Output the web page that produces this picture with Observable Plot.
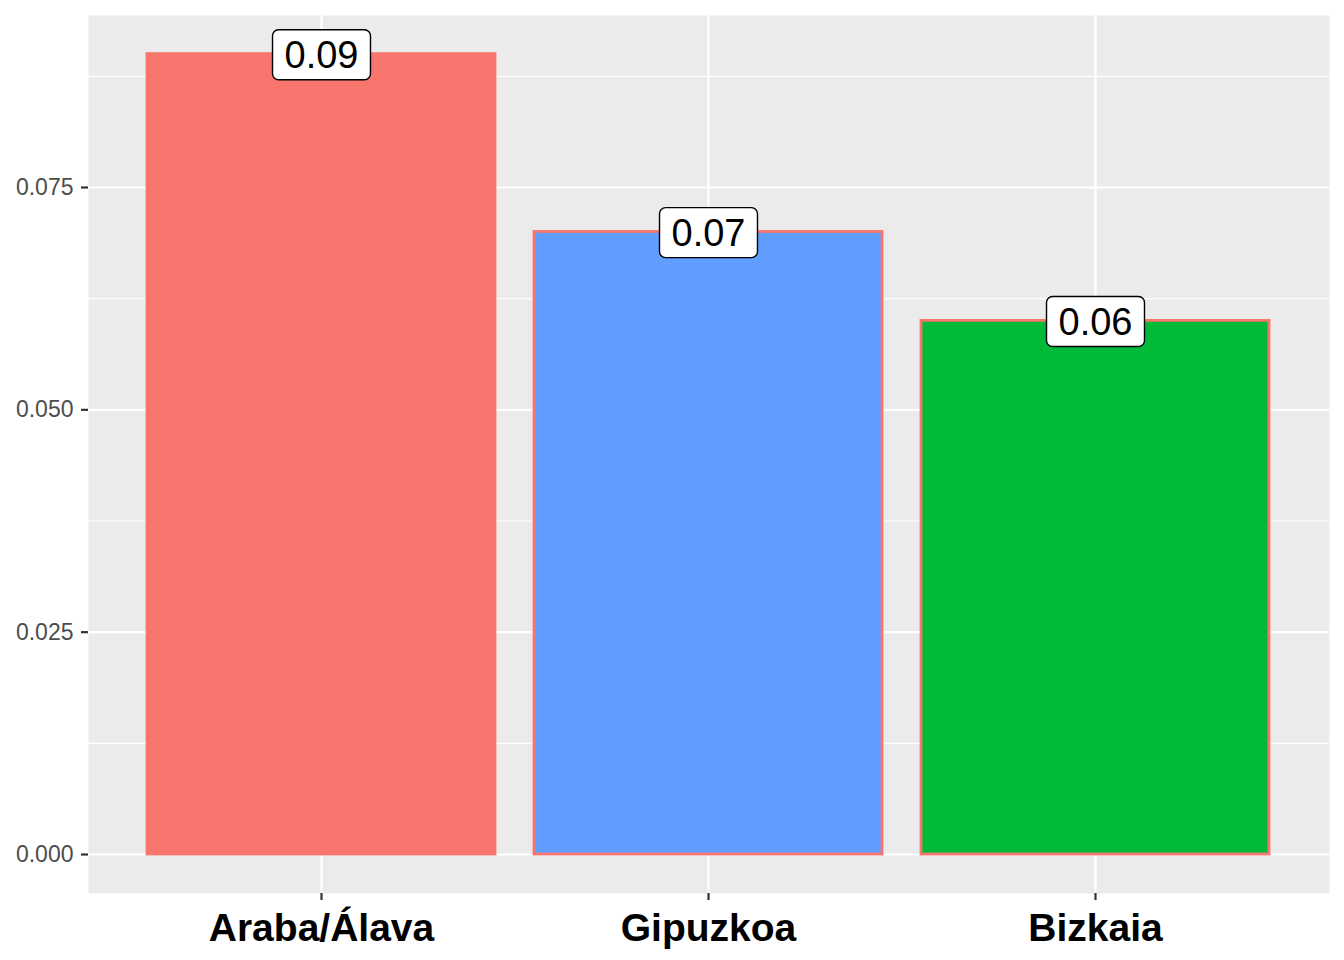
<!DOCTYPE html>
<html>
<head>
<meta charset="utf-8">
<script src="https://cdn.jsdelivr.net/npm/d3@7"></script>
<script src="https://cdn.jsdelivr.net/npm/@observablehq/plot@0.6"></script>
<style>
  html, body { margin: 0; padding: 0; background: #fff; }
  svg { display: block; }
</style>
</head>
<body>
<div id="chart"></div>
<script>
const regions = ["Araba/Álava", "Gipuzkoa", "Bizkaia"];
const values = [0.09, 0.07, 0.06];
const labels = ["0.09", "0.07", "0.06"];
const colors = ["#F8766D", "#619CFF", "#00BA38"];
const majorTicks = [0, 0.025, 0.05, 0.075];
const minorTicks = [0.0125, 0.0375, 0.0625, 0.0875];

const data = regions.map((r, i) => ({region: r, value: values[i], label: labels[i]}));

const font = "'Liberation Sans', Arial, Helvetica, sans-serif";

const plot = Plot.plot({
  width: 1344,
  height: 960,
  marginLeft: 88,
  marginRight: 15,
  marginTop: 15,
  marginBottom: 67,
  style: {fontFamily: font, background: "white"},
  x: {domain: regions, paddingInner: 0.1, paddingOuter: 0.15, label: null},
  y: {domain: [-0.004385, 0.09434], label: null},
  color: {domain: regions, range: colors},
  marks: [
    Plot.frame({fill: "#EBEBEB", stroke: null}),
    Plot.ruleY(minorTicks, {stroke: "white", strokeWidth: 1.1}),
    Plot.ruleY(majorTicks, {stroke: "white", strokeWidth: 2.2}),
    Plot.gridX({stroke: "white", strokeOpacity: 1, strokeWidth: 2.2}),
    Plot.barY(data, {x: "region", y: "value", fill: "region", stroke: "#F8766D", strokeWidth: 2.8}),
    Plot.text(data, {x: "region", y: "value", text: "label", fontSize: 38, fill: "black", dy: 1.5, className: "vlabel"}),
    Plot.axisY({ticks: majorTicks, tickFormat: d3.format(".3f"), tickSize: 7, tickPadding: 8, fontSize: 23, color: "#4D4D4D", stroke: "#333333", strokeWidth: 2.2, label: null}),
    Plot.axisX({tickSize: 7, tickPadding: 13, fontSize: 39, fontWeight: "bold", color: "black", stroke: "#333333", strokeWidth: 2.2, label: null})
  ]
});

document.getElementById("chart").appendChild(plot);

// label boxes (like geom_label) behind each value label
d3.select(plot).selectAll("g.vlabel text").each(function() {
  const bb = this.getBBox();
  const padX = 12, padY = 5;
  const rect = document.createElementNS("http://www.w3.org/2000/svg", "rect");
  rect.setAttribute("x", bb.x - padX);
  rect.setAttribute("y", bb.y - padY + 1);
  rect.setAttribute("width", bb.width + 2 * padX);
  rect.setAttribute("height", bb.height + 2 * padY - 2);
  rect.setAttribute("rx", 6);
  rect.setAttribute("fill", "white");
  rect.setAttribute("stroke", "black");
  rect.setAttribute("stroke-width", 1.4);
  const t = this.getAttribute("transform");
  if (t) rect.setAttribute("transform", t);
  this.parentNode.insertBefore(rect, this);
});
</script>
</body>
</html>
